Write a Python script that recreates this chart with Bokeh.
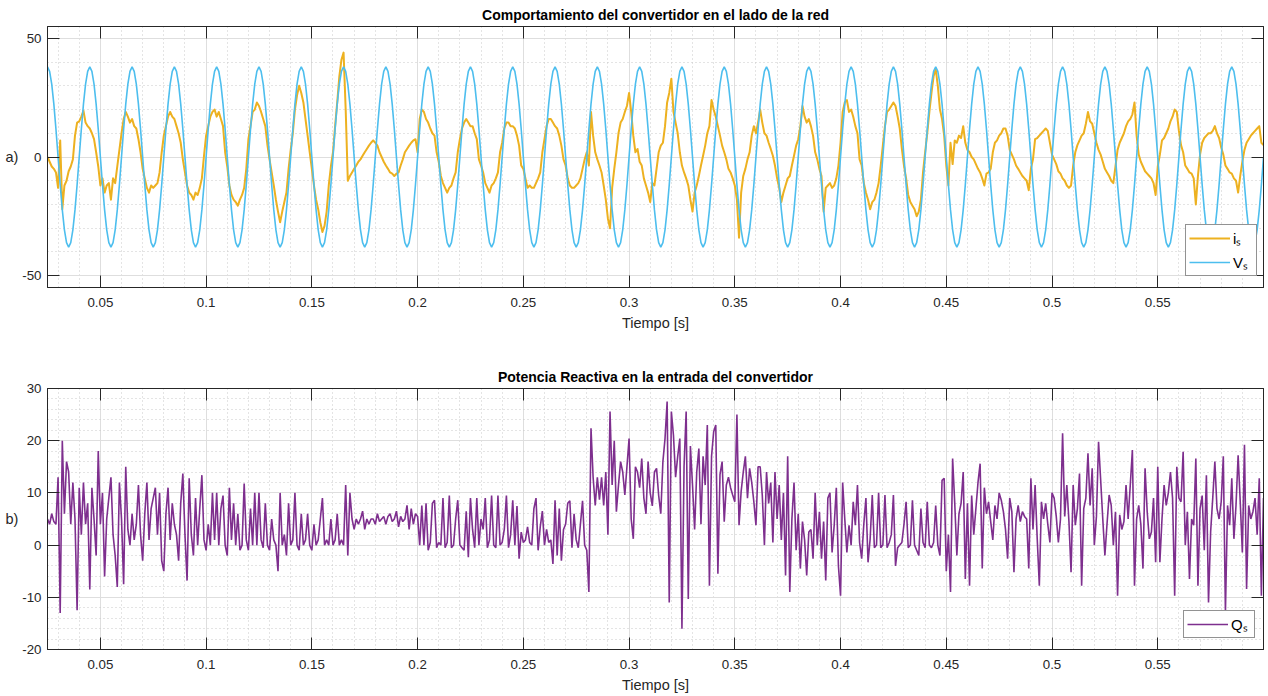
from bokeh.plotting import figure
from bokeh.models import (ColumnDataSource, FixedTicker, LinearAxis, Legend,
                          LegendItem, Range1d)
from bokeh.layouts import column
from bokeh.embed import file_html
from bokeh.resources import INLINE

FONT = "Liberation Sans"
AX = "#262626"

# sample times: start 0.025 s, one reading per millisecond
T_START = 0.025
T_STEP = 0.001

# i_s current readings (one row = 20 ms)
i_s = [
    0, -2, -4, -5, -6.5, -13, 7, -22, -12, -10, -6, -4, -1, 9, 14.5, 15, 17, 19.5, 14.5, 13,
    12, 10, 7.5, 2, -4, -12, -9, -15, -12, -11, -18, -9, -11, -4, 3, 10, 16, 19, 17, 14.5,
    16, 13, 12, 7.5, 2, -5, -9, -13, -15, -12, -13, -12, -11, -6.5, 2, 9, 13, 17, 19, 17,
    16, 13, 10, 6, -1, -6.5, -12, -15, -16, -18, -15, -16, -13, -9, 0.5, 9, 13, 17, 19, 20,
    17, 19, 16, 13, 2, -4, -12, -16, -18, -19, -20.5, -18, -16, -13, -5, 7.5, 13, 19, 20, 23,
    21.5, 19, 16, 13, 5, -1, -6.5, -12, -18, -23, -27.5, -23, -19, -15, -5, 3, 10, 20, 26, 30,
    27, 23, 16, 9, 2, -5, -12, -18, -22, -27.5, -31.6, -29, -23, -12, -4, 2, 13, 23, 34, 41,
    44, 20, -10, -8, -6.5, -5, -3.6, -2, -1, 0.5, 2, 3.4, 4.8, 6, 7, 6, 4.8, 2, 0, -2,
    -3.6, -5, -6.5, -7, -8, -7, -6.5, -3.6, -1, 2, 3.4, 4.8, 6, 7, 7.5, 2, 16, 20, 19, 16,
    14.5, 12, 10, 9, 2, -2, -8, -11, -13, -15, -13, -12, -9, -6.5, 2, 7.5, 12, 14.5, 16, 14.5,
    13, 13, 10, 7.5, -1, -3.6, -6.5, -11, -13, -15, -12, -11, -9, -6.5, 2, 6, 12, 14.5, 14.5, 13,
    13, 12, 9, 4.8, -3.6, -5, -9, -13, -12, -13, -13, -11, -9, -6.5, 2, 7.5, 13, 16, 16, 14.5,
    13, 12, 9, 4.8, -1, -3.6, -9, -12, -13, -13, -12, -11, -9, -5, -1, 2, -3.6, 19, 9, 2,
    -1, -3.6, -6.5, -12, -18, -26, -30, -13, -5, 2, 10, 14.5, 16, 19, 21.5, 27, 19, 9, 2, 3.4,
    -2, -3.6, -9, -12, -15, -19, -11, -12, -5, 2, 4.8, 6, 13, 23, 27, 33, 19, 14.5, 10, 2,
    -3.6, -6.5, -9, -12, -18, -23, -15, -12, -8, -3.6, 0.5, 4.8, 10, 13, 24, 20, 17, 13, 9, 4.8,
    2, -1, -5, -6.5, -9, -12, -18, -34, -15, -8, -5, -1, 2, 9, 13, 10, 14.5, 20, 14.5, 10,
    9, 6, 3.4, 0.5, -3.6, -9, -13, -19, -15, -12, -9, -8, -3.6, 0.5, 4.8, 7.5, 13, 21.5, 17, 14.5,
    16, 13, 9, 2, -1, -5, -8, -23, -13, -12, -11, -13, -12, -9, -3.6, 6, 19, 23, 24, 19,
    20, 17, 13, 10, -1, -3.6, -11, -15, -18, -22, -19, -18, -15, -11, -3.6, 4.8, 13, 19, 20, 21.5,
    23, 21.5, 17, 12, 3.4, -3.6, -9, -16, -19, -20.5, -22, -25, -23, -18, -6.5, 2, 10, 19, 27, 34,
    37, 30, 20, 16, 9, -3.6, -12, 6, -3, 7, 6, 9, 8, 13, 6, 3, 2, 0, -1, -3,
    -5, -6.5, -9, -12, -7, -6.5, -5, 2, 6, 7, 9, 10, 12, 12, 9, 3, 1, -1, -3.6, -5,
    -6.5, -8, -9, -10, -14, -5, -1, 7.5, 8, 9, 10, 11, 12, 11, 6, 1, -1, -3, -6, -7,
    -9, -10, -12, -13, -12, -3.6, 2, 5, 7, 9, 10, 14, 19, 15, 14, 10, 6, 3, 1, -2,
    -5, -6.5, -8, -10, -11, -4, 3, 6, 8, 10, 13, 15, 16, 18, 23, 9, 1, -2, -4, -6,
    -7, -8, -9, -11, -16, -4, 1, 7, 8, 10, 12, 15, 17, 20, 19, 11, 5, 2, -3.6, -5,
    -6.5, -7, -9, -20, -8, 1, 6, 8, 9, 10, 10, 11, 13, 10, 8, 4, 1, -3.6, -5, -6.5,
    -7, -9, -10, -15, -8, -2, 3, 6, 7.5, 9, 10, 11, 12, 13, 6, 5,
]

# V_s grid voltage readings (one row = 20 ms)
v_s = [
    38, 36.1, 30.7, 22.3, 11.7, 0, -11.7, -22.3, -30.7, -36.1, -38, -36.1, -30.7, -22.3, -11.7, 0, 11.7, 22.3, 30.7, 36.1,
    38, 36.1, 30.7, 22.3, 11.7, 0, -11.7, -22.3, -30.7, -36.1, -38, -36.1, -30.7, -22.3, -11.7, 0, 11.7, 22.3, 30.7, 36.1,
    38, 36.1, 30.7, 22.3, 11.7, 0, -11.7, -22.3, -30.7, -36.1, -38, -36.1, -30.7, -22.3, -11.7, 0, 11.7, 22.3, 30.7, 36.1,
    38, 36.1, 30.7, 22.3, 11.7, 0, -11.7, -22.3, -30.7, -36.1, -38, -36.1, -30.7, -22.3, -11.7, 0, 11.7, 22.3, 30.7, 36.1,
    38, 36.1, 30.7, 22.3, 11.7, 0, -11.7, -22.3, -30.7, -36.1, -38, -36.1, -30.7, -22.3, -11.7, 0, 11.7, 22.3, 30.7, 36.1,
    38, 36.1, 30.7, 22.3, 11.7, 0, -11.7, -22.3, -30.7, -36.1, -38, -36.1, -30.7, -22.3, -11.7, 0, 11.7, 22.3, 30.7, 36.1,
    38, 36.1, 30.7, 22.3, 11.7, 0, -11.7, -22.3, -30.7, -36.1, -38, -36.1, -30.7, -22.3, -11.7, 0, 11.7, 22.3, 30.7, 36.1,
    38, 36.1, 30.7, 22.3, 11.7, 0, -11.7, -22.3, -30.7, -36.1, -38, -36.1, -30.7, -22.3, -11.7, 0, 11.7, 22.3, 30.7, 36.1,
    38, 36.1, 30.7, 22.3, 11.7, 0, -11.7, -22.3, -30.7, -36.1, -38, -36.1, -30.7, -22.3, -11.7, 0, 11.7, 22.3, 30.7, 36.1,
    38, 36.1, 30.7, 22.3, 11.7, 0, -11.7, -22.3, -30.7, -36.1, -38, -36.1, -30.7, -22.3, -11.7, 0, 11.7, 22.3, 30.7, 36.1,
    38, 36.1, 30.7, 22.3, 11.7, 0, -11.7, -22.3, -30.7, -36.1, -38, -36.1, -30.7, -22.3, -11.7, 0, 11.7, 22.3, 30.7, 36.1,
    38, 36.1, 30.7, 22.3, 11.7, 0, -11.7, -22.3, -30.7, -36.1, -38, -36.1, -30.7, -22.3, -11.7, 0, 11.7, 22.3, 30.7, 36.1,
    38, 36.1, 30.7, 22.3, 11.7, 0, -11.7, -22.3, -30.7, -36.1, -38, -36.1, -30.7, -22.3, -11.7, 0, 11.7, 22.3, 30.7, 36.1,
    38, 36.1, 30.7, 22.3, 11.7, 0, -11.7, -22.3, -30.7, -36.1, -38, -36.1, -30.7, -22.3, -11.7, 0, 11.7, 22.3, 30.7, 36.1,
    38, 36.1, 30.7, 22.3, 11.7, 0, -11.7, -22.3, -30.7, -36.1, -38, -36.1, -30.7, -22.3, -11.7, 0, 11.7, 22.3, 30.7, 36.1,
    38, 36.1, 30.7, 22.3, 11.7, 0, -11.7, -22.3, -30.7, -36.1, -38, -36.1, -30.7, -22.3, -11.7, 0, 11.7, 22.3, 30.7, 36.1,
    38, 36.1, 30.7, 22.3, 11.7, 0, -11.7, -22.3, -30.7, -36.1, -38, -36.1, -30.7, -22.3, -11.7, 0, 11.7, 22.3, 30.7, 36.1,
    38, 36.1, 30.7, 22.3, 11.7, 0, -11.7, -22.3, -30.7, -36.1, -38, -36.1, -30.7, -22.3, -11.7, 0, 11.7, 22.3, 30.7, 36.1,
    38, 36.1, 30.7, 22.3, 11.7, 0, -11.7, -22.3, -30.7, -36.1, -38, -36.1, -30.7, -22.3, -11.7, 0, 11.7, 22.3, 30.7, 36.1,
    38, 36.1, 30.7, 22.3, 11.7, 0, -11.7, -22.3, -30.7, -36.1, -38, -36.1, -30.7, -22.3, -11.7, 0, 11.7, 22.3, 30.7, 36.1,
    38, 36.1, 30.7, 22.3, 11.7, 0, -11.7, -22.3, -30.7, -36.1, -38, -36.1, -30.7, -22.3, -11.7, 0, 11.7, 22.3, 30.7, 36.1,
    38, 36.1, 30.7, 22.3, 11.7, 0, -11.7, -22.3, -30.7, -36.1, -38, -36.1, -30.7, -22.3, -11.7, 0, 11.7, 22.3, 30.7, 36.1,
    38, 36.1, 30.7, 22.3, 11.7, 0, -11.7, -22.3, -30.7, -36.1, -38, -36.1, -30.7, -22.3, -11.7, 0, 11.7, 22.3, 30.7, 36.1,
    38, 36.1, 30.7, 22.3, 11.7, 0, -11.7, -22.3, -30.7, -36.1, -38, -36.1, -30.7, -22.3, -11.7, 0, 11.7, 22.3, 30.7, 36.1,
    38, 36.1, 30.7, 22.3, 11.7, 0, -11.7, -22.3, -30.7, -36.1, -38, -36.1, -30.7, -22.3, -11.7, 0, 11.7, 22.3, 30.7, 36.1,
    38, 36.1, 30.7, 22.3, 11.7, 0, -11.7, -22.3, -30.7, -36.1, -38, -36.1, -30.7, -22.3, -11.7, 0, 11.7, 22.3, 30.7, 36.1,
    38, 36.1, 30.7, 22.3, 11.7, 0, -11.7, -22.3, -30.7, -36.1, -38, -36.1, -30.7, -22.3, -11.7, 0, 11.7, 22.3, 30.7, 36.1,
    38, 36.1, 30.7, 22.3, 11.7, 0, -11.7, -22.3, -30.7, -36.1, -38, -36.1, -30.7, -22.3, -11.7, 0, 11.7, 22.3, 30.7, 36.1,
    38, 36.1, 30.7, 22.3, 11.7, 0, -11.7, -22.3, -30.7, -36.1, -38, -36.1, -30.7, -22.3, -11.7, 0,
]

# Q_s reactive power readings (one row = 20 ms)
q_s = [
    5, 4, 6, 4.5, 4, 13, -13, 20, 6, 16, 14, 4, 12, 5, -12.5, 11, 2, 12, 4, 8,
    -8.5, 11, 5, -2, 18, 4, 10, -6, 5, 9, 13, 2, -2, -8, 12, 5, -7.5, 15, 3, 0,
    6, 1, 4, 11.5, 2, -3, 6, 12, 1, 7, 9, 11, 2, 10, -3, -5, 6, 11, 1, 8,
    4, 2, -3, 8, 13.7, 2, -6.8, 12.8, 2, -2, 9, 0, 7, 13.4, 1, -1, 4, 0, 10, 1,
    10, 0, 7, 9.5, 0, -2, 11, 1, 8, 0, 6, -1, 0, 11.8, 1, -1, 7, 0, 10, 0,
    10, 1, -0.5, 8, 0, -1, 5, 1, 0, -5, 10, 0, 2, -2, 8, 0, 1, 10, 0, -1,
    6, 0, 1, 6, 0, -1, 4, 0, 1, 5, 9, 0, 1, 0, 5, 0, 1, 6, 0, 1,
    0, 11.5, -2, 10, 5, 3, 5, 4, 5, 6.5, 3, 5, 4, 5, 5, 4, 6, 4.5, 5, 5.5,
    4, 5.5, 6, 4.5, 5, 6.5, 3.5, 5.5, 4.5, 5, 7.6, 3, 7, 4, 6, 5.5, 0, 7.6, 0, 8,
    -1, 0.5, 8, 8.6, -0.5, 0.5, 0, 9, -0.5, 0.5, 9.5, -0.5, 0, 5, 8.6, 0, -0.5, -1, 6.5, -2.3,
    9, 3, -0.5, 9, 0, 5, 3, 9, -0.5, 1, 9.5, 0, -0.5, 9.5, 0, 0.5, 3, 9.5, -0.5, 2,
    8.6, 0, 7.5, -2.6, 2.5, 0.5, 1, 3.5, 0.5, 0, 7, 9, -1, 3.5, 6.5, 0, 3, 0.5, 1, -3.6,
    8.6, -2, 7, -3, 3, 4, 8, 8.5, -0.5, 6, 1, -0.5, 4, 8.5, 0, -1, -9, 22.4, 13, 7.6,
    13, 8.7, 13, 7.6, 14, 2, 25.6, 11.5, 20, 6.4, 11.5, 16, 14, 9.6, 15, 20.4, 5, 1.2, 15, 14,
    11, 16.6, 9, 6, 16, 10, 7.5, 14, 14.7, 9.5, 6, 16, 20.4, 27.5, -11, 25.6, 21, 13, 17, 20.4,
    -16, 15, 25.6, -10.3, 19, 11.5, 3, 14, 18.5, 4, 17, 11.5, 23, -7.8, 17, 21.7, 23, -5.5, 13.5, 16,
    4.5, 11.5, 13, 11, 9.6, 8.3, 25, 3.8, 10.3, 14, 17, 9, 14.7, 12, 8.3, 3.8, 15, 15, 9.5, 0,
    14, 8, 12, 0.5, 14, 5, 11.5, 1, 10, -5.8, 17, -9, 5, 12, -1, 6, -4.5, 4.5, 1, -5.8,
    2.5, 3, -2.6, 10, 0, 6.4, -2.6, 4.5, -6.8, 9, 10, -1.4, 3.8, 11, -4, -9.7, 12, 5, -1.4, 3.8,
    0, 8.3, 3.8, 11.5, 0.5, -2.6, 4, 9, -3.3, 1.2, 9.6, -0.5, 0, 10, -0.5, 0, 9.6, -0.5, 0.5, 2,
    9.6, -4, -0.5, 0, 0.5, 4, 8.3, -0.5, 0, 8.6, 0, -1, -2, 7, 0.5, -0.5, 8.3, 0, -0.5, 0.5,
    7.6, 0, -2, 12.4, 12.8, -5, 2, -9, 16.6, 8, -2, 6, 8, 14, -6.5, 8, -7.8, 9.5, 2, 7,
    12, 15.6, -4.5, 11, 6, 8.3, 4.5, 1, 7.6, 5, 10, 8.6, 6.4, 3, -2.6, 9, 6.4, -5.2, 5, 7.6,
    4.5, 6.4, 5.5, 5, -4.5, 12.8, 3, 11.5, 1.2, -7.8, 8.3, 5, 8, 4, 0.5, 10, 9, 5.5, 0.5, 5,
    21.4, 5.5, 11.5, 4.5, -5.2, 11.5, 3.8, 7, 13.7, -7.8, 7, 9, 17.6, 7.6, 14.7, 0, 5.5, 19.8, 12.5, 5,
    -2, 4, 9.6, 7.6, 0, 6.4, -9.7, 5.8, 3, 4.5, 11.5, 5, 11.5, 18.2, -7.8, 5, 7.6, 4, -4.5, 14.7,
    6.4, 1.2, 2.5, 9, -3.3, 15, -3.3, 5, 11.5, 7.6, 10, 14, 9, -9.7, 15, 9, 8.3, 17.9, 0, 6.4,
    -6.5, 5, 3.8, 16.6, -7.8, 7, 9.5, -1, 13.4, -11, 2.5, 9, 16, 7, 5, 8.3, 17, -12.9, 7.6, 3.8,
    12.8, 1.2, 7.6, 17.2, 8.3, -1.4, 19.2, -8.4, 7.6, 5, 6.4, 9, 2, 12.8, -9.7, 9,
]

# axes / ticks
X_RANGE = (0.025, 0.6)
X_TICKS = [0.05, 0.1, 0.15, 0.2, 0.25, 0.3, 0.35, 0.4, 0.45, 0.5, 0.55]
X_LABELS = ["0.05", "0.1", "0.15", "0.2", "0.25", "0.3", "0.35", "0.4", "0.45", "0.5", "0.55"]
X_MINOR = [0.03, 0.04, 0.06, 0.07, 0.08, 0.09, 0.11, 0.12, 0.13, 0.14, 0.16, 0.17, 0.18, 0.19,
           0.21, 0.22, 0.23, 0.24, 0.26, 0.27, 0.28, 0.29, 0.31, 0.32, 0.33, 0.34, 0.36, 0.37,
           0.38, 0.39, 0.41, 0.42, 0.43, 0.44, 0.46, 0.47, 0.48, 0.49, 0.51, 0.52, 0.53, 0.54,
           0.56, 0.57, 0.58, 0.59]
Y1_RANGE = (-55, 55)
Y1_TICKS = [-50, 0, 50]
Y1_LABELS = ["-50", "0", "50"]
Y1_MINOR = [-40, -30, -20, -10, 10, 20, 30, 40]
Y2_RANGE = (-20, 30)
Y2_TICKS = [-20, -10, 0, 10, 20, 30]
Y2_LABELS = ["-20", "-10", "0", "10", "20", "30"]
Y2_MINOR = [-18, -16, -14, -12, -8, -6, -4, -2, 2, 4, 6, 8, 12, 14, 16, 18, 22, 24, 26, 28]

n = min(len(i_s), len(v_s), len(q_s))
t = [round(T_START + T_STEP * k, 4) for k in range(n)]
src = ColumnDataSource(data=dict(t=t, i_s=i_s[:n], v_s=v_s[:n], q_s=q_s[:n]))


def make_fig(title, yr, yticks, ylabels, yminor, ylab, b_top, b_bottom):
    p = figure(frame_width=1216, frame_height=261,
               x_range=Range1d(*X_RANGE), y_range=Range1d(*yr),
               output_backend="svg", toolbar_location=None,
               min_border_left=47, min_border_right=5,
               min_border_top=b_top, min_border_bottom=b_bottom,
               background_fill_color="white", border_fill_color="white")
    p.outline_line_color = AX
    p.title.text = title
    p.title.align = "center"
    p.title.text_font = FONT
    p.title.text_font_size = "14px"
    p.title.text_font_style = "bold"
    p.title.text_color = "black"
    p.title.standoff = 7

    xb = p.xaxis[0]
    yl = p.yaxis[0]
    xt = FixedTicker(ticks=X_TICKS, minor_ticks=X_MINOR)
    yt = FixedTicker(ticks=yticks, minor_ticks=yminor)
    xb.ticker = xt
    yl.ticker = yt
    p.xgrid.ticker = xt
    p.ygrid.ticker = yt
    xb.major_label_overrides = dict(zip(X_TICKS, X_LABELS))
    yl.major_label_overrides = dict(zip(yticks, ylabels))

    # box ticks on the top and right sides (no labels): drawn as label-less minor ticks
    top = LinearAxis(ticker=FixedTicker(ticks=[], minor_ticks=X_TICKS))
    right = LinearAxis(ticker=FixedTicker(ticks=[], minor_ticks=yticks))
    for ax in (top, right):
        ax.axis_line_color = AX
        ax.major_tick_in = 0
        ax.major_tick_out = 0
        ax.minor_tick_in = 12
        ax.minor_tick_out = 0
        ax.minor_tick_line_color = AX
        ax.major_label_standoff = 0
    p.add_layout(top, "above")
    p.add_layout(right, "right")

    for ax in (xb, yl):
        ax.axis_line_color = AX
        ax.major_tick_line_color = AX
        ax.major_tick_in = 12
        ax.major_tick_out = 0
        ax.minor_tick_in = 0
        ax.minor_tick_out = 0
        ax.major_label_text_font = FONT
        ax.major_label_text_color = AX
        ax.major_label_text_font_size = "13.3px"
        ax.axis_label_text_font = FONT
        ax.axis_label_text_font_size = "14.5px"
        ax.axis_label_text_font_style = "normal"
        ax.axis_label_text_color = AX
    xb.axis_label = "Tiempo [s]"
    xb.major_label_standoff = 10
    xb.axis_label_standoff = 5
    yl.axis_label = ylab
    yl.axis_label_orientation = "horizontal"
    yl.major_label_standoff = 6
    yl.axis_label_standoff = 1

    for g in (p.xgrid[0], p.ygrid[0]):
        g.grid_line_color = "#dedede"
        g.grid_line_width = 1
        g.minor_grid_line_color = "#c8c8c8"
        g.minor_grid_line_dash = "1 3"
        g.minor_grid_line_width = 1
    return p


p1 = make_fig("Comportamiento del convertidor en el lado de la red", Y1_RANGE,
              Y1_TICKS, Y1_LABELS, Y1_MINOR, "a)", 26, 63)
r_i = p1.line("t", "i_s", source=src, line_color="#EDB120", line_width=2,
              line_join="round")
r_v = p1.line("t", "v_s", source=src, line_color="#4DBEEE", line_width=1.6)
leg1 = Legend(items=[LegendItem(label="iₛ", renderers=[r_i]),
                     LegendItem(label="Vₛ", renderers=[r_v])],
              location=(1138, 11), orientation="vertical",
              glyph_width=41, glyph_height=20, label_height=20, label_standoff=3,
              padding=3, spacing=4, margin=0,
              label_text_font=FONT, label_text_font_size="15px", label_text_color="black",
              border_line_color=AX, border_line_width=1,
              background_fill_color="white", background_fill_alpha=1)
p1.add_layout(leg1, "center")

p2 = make_fig("Potencia Reactiva en la entrada del convertidor", Y2_RANGE,
              Y2_TICKS, Y2_LABELS, Y2_MINOR, "b)", 38, 47)
r_q = p2.line("t", "q_s", source=src, line_color="#7E2F8E", line_width=1.6)
leg2 = Legend(items=[LegendItem(label="Qₛ", renderers=[r_q])],
              location=(1136, 11), orientation="vertical",
              glyph_width=41, glyph_height=20, label_height=20, label_standoff=3,
              padding=3, spacing=4, margin=0,
              label_text_font=FONT, label_text_font_size="15px", label_text_color="black",
              border_line_color=AX, border_line_width=1,
              background_fill_color="white", background_fill_alpha=1)
p2.add_layout(leg2, "center")

layout = column(p1, p2, spacing=0)
open("out.html", "w").write(file_html(layout, INLINE))
